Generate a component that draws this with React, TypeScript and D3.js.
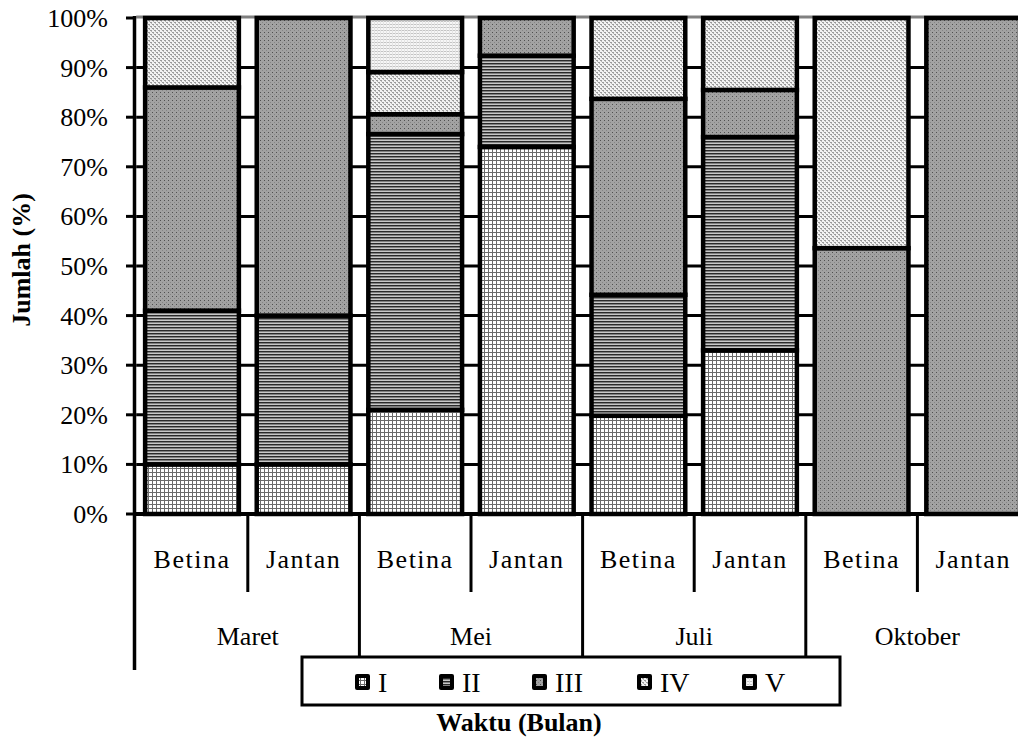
import React from "react";
import * as d3 from "d3";

const categories = ["Betina", "Jantan", "Betina", "Jantan", "Betina", "Jantan", "Betina", "Jantan"];
const months = ["Maret", "Mei", "Juli", "Oktober"];
const seriesNames = ["I", "II", "III", "IV", "V"];
const seriesI = [10, 10, 21, 74, 19.8, 33, 0, 0];
const seriesII = [31, 30, 55.6, 18.4, 24.4, 43, 0, 0];
const seriesIII = [45, 60, 4, 7.6, 39.5, 9.5, 53.6, 100];
const seriesIV = [14, 0, 8.5, 0, 16.3, 14.5, 46.4, 0];
const seriesV = [0, 0, 10.9, 0, 0, 0, 0, 0];
const yTicks = [0, 10, 20, 30, 40, 50, 60, 70, 80, 90, 100];

const W = 1018;
const H = 740;
const FONT = "'Liberation Serif', 'Times New Roman', serif";

export default function App() {
  const allSeries = [seriesI, seriesII, seriesIII, seriesIV, seriesV];
  const rows = categories.map((c, i) => {
    const r: any = { idx: i };
    seriesNames.forEach((s, k) => (r[s] = allSeries[k][i]));
    return r;
  });
  const stacked = d3.stack<any>().keys(seriesNames)(rows);

  const left = 136.2;
  const right = 1029;
  const x = d3
    .scaleBand<number>()
    .domain(categories.map((_, i) => i))
    .range([left, right])
    .paddingInner(0.16)
    .paddingOuter(0.08);
  const step = x.step();
  const y = d3.scaleLinear().domain([0, 100]).range([514, 18]);

  const patId = (s: string) => "pat-" + s;
  const legendX = [355, 439, 532, 637, 742];

  return (
    <svg
      width={W}
      height={H}
      style={{ position: "absolute", left: 0, top: 0, background: "#fff" }}
      fontFamily={FONT}
    >
      <defs>
        <pattern id="pat-I" patternUnits="userSpaceOnUse" width={4} height={4}>
          <rect width={4} height={4} fill="#fff" />
          <rect width={4} height={1} fill="#6a6a6a" />
          <rect width={1} height={4} fill="#6a6a6a" />
        </pattern>
        <pattern id="pat-II" patternUnits="userSpaceOnUse" width={3} height={3}>
          <rect width={3} height={3} fill="#c8c8c8" />
          <rect width={3} height={1} fill="#2a2a2a" />
          <rect y={1} width={3} height={1} fill="#808080" />
        </pattern>
        <pattern id="pat-III" patternUnits="userSpaceOnUse" width={4} height={4}>
          <rect width={4} height={4} fill="#a2a2a2" />
          <rect width={1} height={1} fill="#505050" />
          <rect x={2} y={2} width={1} height={1} fill="#858585" />
        </pattern>
        <pattern id="pat-IV" patternUnits="userSpaceOnUse" width={4} height={4}>
          <rect width={4} height={4} fill="#f2f2f2" />
          <rect width={2} height={1} fill="#9a9a9a" />
          <rect x={2} y={2} width={2} height={1} fill="#9a9a9a" />
          <rect x={1} y={1} width={1} height={1} fill="#b5b5b5" />
          <rect x={3} y={3} width={1} height={1} fill="#b5b5b5" />
        </pattern>
        <pattern id="pat-V" patternUnits="userSpaceOnUse" width={3} height={3}>
          <rect width={3} height={3} fill="#f6f6f6" />
          <rect width={3} height={1} fill="#c4c4c4" />
          <rect x={2} width={1} height={3} fill="#e4e4e4" />
        </pattern>
        <clipPath id="plotclip">
          <rect x={0} y={0} width={W} height={H} />
        </clipPath>
      </defs>

      {/* gridlines */}
      {yTicks
        .filter((t) => t > 0 && t < 100)
        .map((t) => (
          <line key={"g" + t} x1={left} x2={W} y1={y(t)} y2={y(t)} stroke="#000" strokeWidth={3} />
        ))}
      <line x1={left} x2={W} y1={y(100) - 1} y2={y(100) - 1} stroke="#808080" strokeWidth={3} />

      {/* bars */}
      <g clipPath="url(#plotclip)">
        {stacked.map((layer) =>
          layer.map((d, i) => {
            if (d[1] - d[0] <= 0) return null;
            return (
              <rect
                key={layer.key + i}
                x={x(i)!}
                width={x.bandwidth()}
                y={y(d[1])}
                height={y(d[0]) - y(d[1])}
                fill={`url(#${patId(layer.key)})`}
                stroke="#000"
                strokeWidth={4.5}
              />
            );
          })
        )}
      </g>

      {/* baseline */}
      <line x1={left - 2} x2={W} y1={y(0)} y2={y(0)} stroke="#000" strokeWidth={4} />

      {/* y axis */}
      <line x1={134.5} x2={134.5} y1={16} y2={670} stroke="#000" strokeWidth={3.5} />
      {yTicks.map((t) => (
        <g key={"t" + t}>
          <line x1={126} x2={135} y1={y(t)} y2={y(t)} stroke="#000" strokeWidth={3} />
          <text x={108} y={y(t) + 9} textAnchor="end" fontSize={26} fill="#000">
            {t + "%"}
          </text>
        </g>
      ))}

      {/* category dividers */}
      {d3.range(1, 8).map((k) => {
        const xx = left + k * step;
        const isMonth = k % 2 === 0;
        return (
          <line
            key={"d" + k}
            x1={xx}
            x2={xx}
            y1={y(0)}
            y2={isMonth ? 670 : 592}
            stroke="#000"
            strokeWidth={3}
          />
        );
      })}

      {/* category labels */}
      {categories.map((c, i) => (
        <text
          key={"c" + i}
          x={x(i)! + x.bandwidth() / 2}
          y={568}
          textAnchor="middle"
          fontSize={26}
          letterSpacing={1.5}
        >
          {c}
        </text>
      ))}
      {months.map((m, k) => (
        <text
          key={"m" + k}
          x={left + (2 * k + 1) * step}
          y={645}
          textAnchor="middle"
          fontSize={26}
        >
          {m}
        </text>
      ))}

      {/* legend */}
      <rect x={302} y={657} width={538} height={48} fill="#fff" stroke="#000" strokeWidth={3} />
      {seriesNames.map((s, k) => (
        <g key={"l" + s}>
          <rect x={legendX[k]} y={674} width={15} height={16} rx={2} fill="#000" />
          <rect x={legendX[k] + 4} y={678} width={7} height={8} fill={`url(#${patId(s)})`} />
          <text x={legendX[k] + 23} y={692} fontSize={28}>
            {s}
          </text>
        </g>
      ))}

      {/* axis titles */}
      <text
        transform={`translate(30, ${260}) rotate(-90)`}
        textAnchor="middle"
        fontSize={26}
        fontWeight="bold"
      >
        Jumlah (%)
      </text>
      <text x={519} y={731} textAnchor="middle" fontSize={26} fontWeight="bold">
        Waktu (Bulan)
      </text>
    </svg>
  );
}
